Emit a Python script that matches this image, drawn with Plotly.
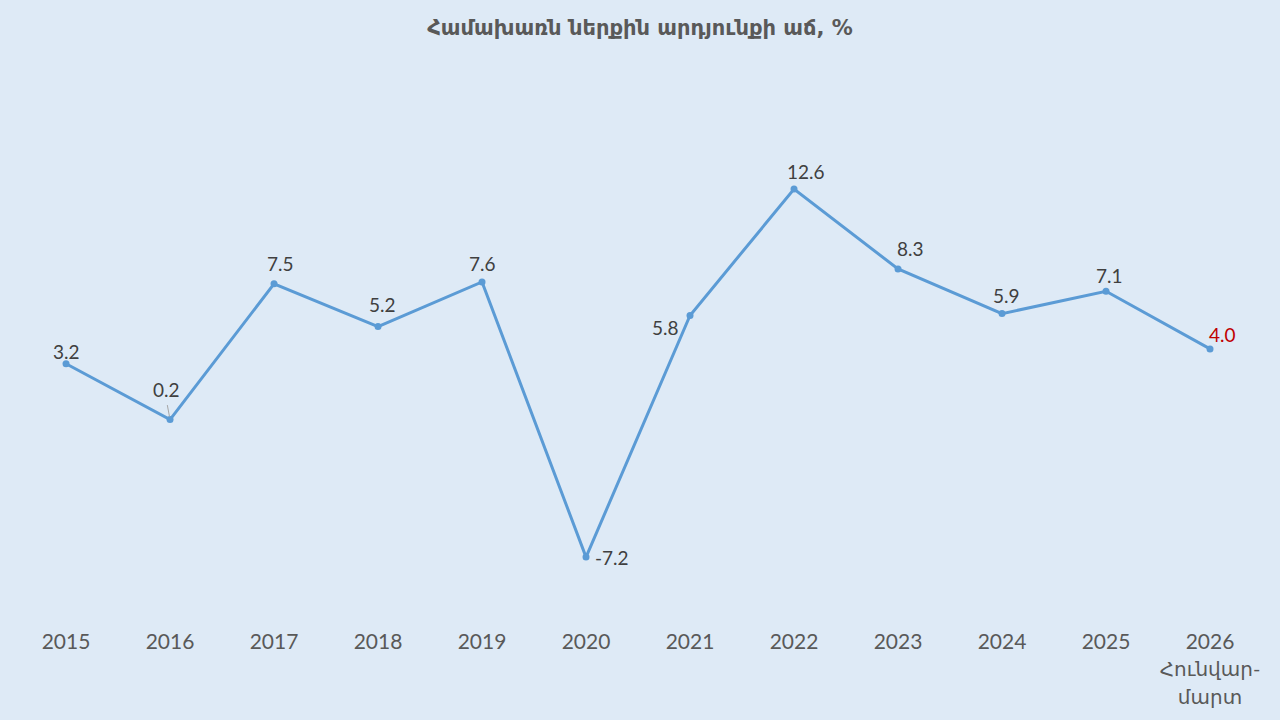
import plotly.graph_objects as go

years = ['2015', '2016', '2017', '2018', '2019', '2020', '2021', '2022', '2023', '2024', '2025', '2026']
growth = [3.2, 0.2, 7.5, 5.2, 7.6, -7.2, 5.8, 12.6, 8.3, 5.9, 7.1, 4.0]
last_note = ['Հունվար-', 'մարտ']
title = 'Համախառն ներքին արդյունքի աճ, %'

ticktext = list(years)
ticktext[-1] = years[-1] + '<br><span style="font-size:20px">' + last_note[0] + '<br>' + last_note[1] + '</span>'

fig = go.Figure()
fig.add_trace(go.Scatter(
    x=list(range(len(years))), y=growth,
    mode='lines+markers',
    line=dict(color='#5B9BD5', width=3),
    marker=dict(color='#5B9BD5', size=7),
    hoverinfo='skip',
))

# label offsets (dx, dy) in pixels, picked to match where the labels sit
offsets = [(0, 12), (-4, 30), (6, 20), (4, 22), (0, 18), (26, 0),
           (-25, -12), (12, 18), (12, 20), (4, 18), (3, 16), (12, 14)]
for i, (v, (dx, dy)) in enumerate(zip(growth, offsets)):
    col = '#C00000' if i == len(growth) - 1 else '#404040'
    fig.add_annotation(
        x=i, y=v, text=f'{v:.1f}', showarrow=False,
        xshift=dx, yshift=dy,
        font=dict(size=19, color=col, family='Lato, DejaVu Sans'),
    )
# small leader line for 0.2
fig.add_annotation(x=1, y=growth[1], ax=-3, ay=-16, showarrow=True,
                   arrowhead=0, arrowwidth=1, arrowcolor='#A6A6A6', text='', standoff=3)

fig.update_layout(
    width=1280, height=720,
    paper_bgcolor='#DEEAF6', plot_bgcolor='#DEEAF6',
    margin=dict(l=0, r=0, t=100, b=98),
    showlegend=False,
    title=dict(text='<b>' + title + '</b>', x=0.5, xanchor='center', y=0.962, yanchor='middle',
               font=dict(size=21, color='#595959', family='DejaVu Sans')),
    font=dict(family='Lato, DejaVu Sans', color='#595959'),
)
fig.update_xaxes(
    range=[-0.635, 11.673], tickvals=list(range(len(years))), ticktext=ticktext,
    showgrid=False, zeroline=False, showline=False, ticks='', ticklabelstandoff=5,
    tickfont=dict(size=21, color='#595959'),
)
fig.update_yaxes(
    range=[-10.69, 17.39], showgrid=False, zeroline=False, showticklabels=False,
)

fig.write_html("out.html", config={'displayModeBar': False},
               post_script="document.body.style.margin='0';document.body.style.overflow='hidden';")
